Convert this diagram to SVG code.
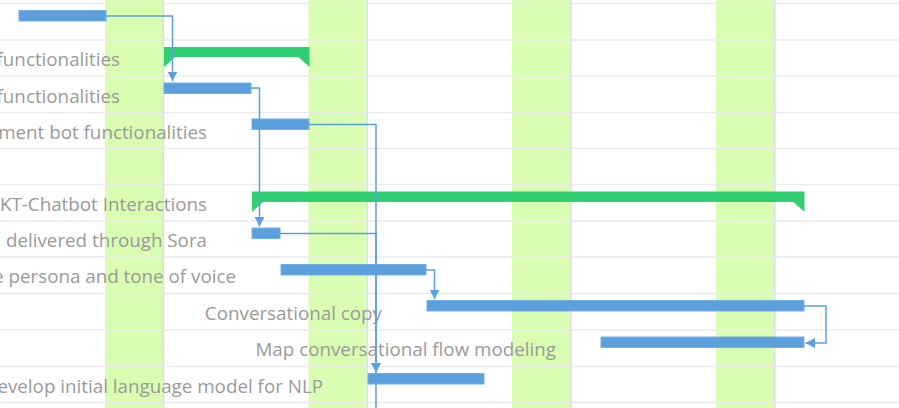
<svg xmlns="http://www.w3.org/2000/svg" width="899" height="408" viewBox="0 0 899 408">
<defs>
<style>
.weekend{fill:#d9fdb1}
.hline{stroke:#ebebeb;stroke-width:1.5}
.vline{stroke:#dedede;stroke-width:1.5}
.bar{fill:#5ba0dc;stroke:#75b0e3;stroke-width:1}
.summary{fill:#2fcf72}
.label{font-family:"Open Sans","Noto Sans",sans-serif;font-size:18.8px;fill:#9a9a9a;text-anchor:end}
.link{fill:none;stroke:#5ba0dc;stroke-width:1.5}
</style>
<marker id="arrow" markerUnits="userSpaceOnUse" markerWidth="11" markerHeight="11" viewBox="0 0 11 11" refX="9.5" refY="5.5" orient="auto">
<path d="M0,0.5 L9.5,5.5 L0,10.5 z" fill="#5ba0dc"/>
</marker>
</defs>
<rect width="899" height="408" fill="#ffffff"/>
<g id="grid">
<rect class="weekend" x="105" y="0" width="58" height="408"/>
<rect class="weekend" x="308.5" y="0" width="58" height="408"/>
<rect class="weekend" x="512" y="0" width="58" height="408"/>
<rect class="weekend" x="716" y="0" width="58" height="408"/>
<line class="hline" x1="0" y1="3.5" x2="899" y2="3.5"/>
<line class="hline" x1="0" y1="40" x2="899" y2="40"/>
<line class="hline" x1="0" y1="76" x2="899" y2="76"/>
<line class="hline" x1="0" y1="112.5" x2="899" y2="112.5"/>
<line class="hline" x1="0" y1="148.5" x2="899" y2="148.5"/>
<line class="hline" x1="0" y1="184.5" x2="899" y2="184.5"/>
<line class="hline" x1="0" y1="221" x2="899" y2="221"/>
<line class="hline" x1="0" y1="257" x2="899" y2="257"/>
<line class="hline" x1="0" y1="293.5" x2="899" y2="293.5"/>
<line class="hline" x1="0" y1="330" x2="899" y2="330"/>
<line class="hline" x1="0" y1="366.5" x2="899" y2="366.5"/>
<line class="hline" x1="0" y1="402.5" x2="899" y2="402.5"/>
<line class="vline" x1="163.5" y1="0" x2="163.5" y2="408"/>
<line class="vline" x1="367.2" y1="0" x2="367.2" y2="408"/>
<line class="vline" x1="571" y1="0" x2="571" y2="408"/>
<line class="vline" x1="774.8" y1="0" x2="774.8" y2="408"/>
</g>
<g id="task0">
<rect class="bar" x="19" y="10.5" width="87" height="10.5"/>
</g>
<g id="task1">
<text class="label" x="120" y="66">functionalities</text>
<path class="summary" d="M164,47 H309.5 V67 L298.5,57 H175 L164,67 Z"/>
</g>
<g id="task2">
<text class="label" x="120" y="102.5">functionalities</text>
<rect class="bar" x="164" y="83" width="87" height="10.5"/>
</g>
<g id="task3">
<text class="label" x="207" y="138.5">ment bot functionalities</text>
<rect class="bar" x="252" y="119" width="57" height="10.5"/>
</g>
<g id="task5">
<text class="label" x="207" y="210.5">KT-Chatbot Interactions</text>
<path class="summary" d="M252,191.5 H804.5 V212 L793.5,202 H263 L252,212 Z"/>
</g>
<g id="task6">
<text class="label" x="207" y="247">delivered through Sora</text>
<rect class="bar" x="252" y="228" width="28" height="10.5"/>
</g>
<g id="task7">
<text class="label" x="236" y="283">e persona and tone of voice</text>
<rect class="bar" x="281" y="264.5" width="145" height="10.5"/>
</g>
<g id="task8">
<text class="label" x="382" y="319.5">Conversational copy</text>
<rect class="bar" x="427" y="300.5" width="377" height="10.5"/>
</g>
<g id="task9">
<text class="label" x="556" y="356">Map conversational flow modeling</text>
<rect class="bar" x="601" y="337" width="203" height="10.5"/>
</g>
<g id="task10">
<text class="label" x="323" y="392.5">evelop initial language model for NLP</text>
<rect class="bar" x="368" y="373.5" width="116" height="10.5"/>
</g>
<g id="connectors">
<path class="link" d="M106,16 H172.5 V81" marker-end="url(#arrow)"/>
<path class="link" d="M251,88 H259.5 V226.5" marker-end="url(#arrow)"/>
<path class="link" d="M309,124.5 H376 V372.5" marker-end="url(#arrow)"/>
<path class="link" d="M280,233.5 H376 V410"/>
<path class="link" d="M426,270 H434.5 V299" marker-end="url(#arrow)"/>
<path class="link" d="M804,306 H826 V343 H805.5" marker-end="url(#arrow)"/>
</g>
</svg>
